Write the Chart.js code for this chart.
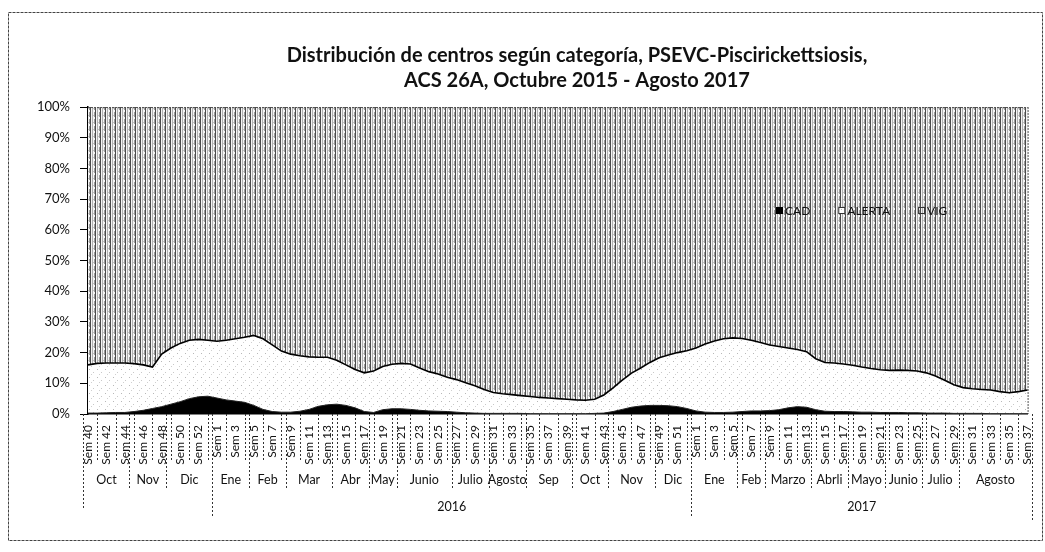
<!DOCTYPE html>
<html>
<head>
<meta charset="utf-8">
<script src="https://cdn.jsdelivr.net/npm/chart.js@4"></script>
<style>
  body { margin: 0; background: #fff; }
  canvas { display: block; }
</style>
</head>
<body>
<canvas id="chart" width="1045" height="552"></canvas>
<script>
// week ranges per year: [year, first week, last week]
const yearWeeks = [[2015, 40, 53], [2016, 1, 52], [2017, 1, 37]];
const yearLabels = ['', '2016', '2017'];

const monthLabels = ['Oct', 'Nov', 'Dic', 'Ene', 'Feb', 'Mar', 'Abr', 'May', 'Junio', 'Julio', 'Agosto', 'Sep', 'Oct', 'Nov', 'Dic',
    'Ene', 'Feb', 'Marzo', 'Abrli', 'Mayo', 'Junio', 'Julio', 'Agosto'];
const monthWeeks = [5, 4, 5, 4, 4, 5, 4, 3, 6, 4, 4, 5, 4, 5, 4,
    5, 3, 5, 4, 4, 4, 4, 8];

const weekLabels = [];
yearWeeks.forEach(([y, a, b]) => { for (let w = a; w <= b; w++) weekLabels.push('Sem ' + w); });

// percentages per week (100% stacked)
const cad = [0.3, 0.3, 0.4, 0.5, 0.5, 0.8, 1.2, 1.8, 2.4, 3.2, 4.0, 5.0, 5.6, 5.8, 5.2, 4.6, 4.2, 3.8, 2.8, 1.5,
    0.8, 0.6, 0.6, 0.9, 1.5, 2.5, 3.0, 3.2, 2.8, 2.0, 0.8, 0.5, 1.4, 1.7, 1.7, 1.5, 1.2, 1.0, 0.9, 0.8,
    0.6, 0.4, 0.3, 0.2, 0.2, 0.2, 0.2, 0.2, 0.1, 0.1, 0.1, 0.1, 0.1, 0.1, 0.1, 0.2, 0.3, 0.8, 1.5, 2.2,
    2.6, 2.8, 2.8, 2.7, 2.4, 1.8, 1.0, 0.6, 0.5, 0.5, 0.6, 0.8, 1.0, 1.0, 1.1, 1.4, 2.0, 2.4, 2.2, 1.4,
    0.9, 0.8, 0.8, 0.7, 0.6, 0.6, 0.5, 0.5, 0.5, 0.4, 0.4, 0.3, 0.3, 0.3, 0.2, 0.2, 0.2, 0.2, 0.1, 0.1,
    0.1, 0.1, 0.1];
const alerta = [15.7, 16.2, 16.2, 16.1, 16.1, 15.6, 14.8, 13.5, 17.1, 18.3, 19.0, 19.0, 18.7, 18.2, 18.5, 19.4, 20.3, 21.2, 22.8, 23.0,
    21.7, 19.9, 18.9, 18.1, 17.1, 16.0, 15.5, 14.3, 13.2, 12.5, 12.6, 13.5, 14.1, 14.5, 14.8, 14.8, 13.8, 12.8, 12.1, 11.2,
    10.6, 9.8, 8.9, 7.8, 6.8, 6.4, 6.1, 5.8, 5.6, 5.3, 5.1, 4.9, 4.7, 4.5, 4.4, 4.6, 5.9, 7.7, 9.5, 11.1,
    12.4, 14.0, 15.5, 16.5, 17.6, 18.8, 20.5, 22.2, 23.3, 24.0, 24.2, 23.8, 23.0, 22.3, 21.4, 20.6, 19.5, 18.6, 18.1, 16.6,
    15.9, 15.8, 15.5, 15.2, 14.7, 14.2, 13.9, 13.7, 13.8, 13.8, 13.6, 13.1, 12.1, 10.7, 9.3, 8.4, 8.0, 7.8, 7.7, 7.2,
    6.8, 7.2, 7.7];
const vig = [84.0, 83.5, 83.4, 83.4, 83.4, 83.6, 84.0, 84.7, 80.5, 78.5, 77.0, 76.0, 75.7, 76.0, 76.3, 76.0, 75.5, 75.0, 74.4, 75.5,
    77.5, 79.5, 80.5, 81.0, 81.4, 81.5, 81.5, 82.5, 84.0, 85.5, 86.6, 86.0, 84.5, 83.8, 83.5, 83.7, 85.0, 86.2, 87.0, 88.0,
    88.8, 89.8, 90.8, 92.0, 93.0, 93.4, 93.7, 94.0, 94.3, 94.6, 94.8, 95.0, 95.2, 95.4, 95.5, 95.2, 93.8, 91.5, 89.0, 86.7,
    85.0, 83.2, 81.7, 80.8, 80.0, 79.4, 78.5, 77.2, 76.2, 75.5, 75.2, 75.4, 76.0, 76.7, 77.5, 78.0, 78.5, 79.0, 79.7, 82.0,
    83.2, 83.4, 83.7, 84.1, 84.7, 85.2, 85.6, 85.8, 85.7, 85.8, 86.0, 86.6, 87.6, 89.0, 90.5, 91.4, 91.8, 92.0, 92.2, 92.7,
    93.1, 92.7, 92.2];

const yTicks = [0, 10, 20, 30, 40, 50, 60, 70, 80, 90, 100];

const titleLines = ['Distribución de centros según categoría, PSEVC-Piscirickettsiosis,',
    'ACS 26A, Octubre 2015 - Agosto 2017'];

// fill patterns like the scanned print
function makePattern(w, h, bg, dots) {
    const c = document.createElement('canvas');
    c.width = w; c.height = h;
    const g = c.getContext('2d');
    g.fillStyle = bg; g.fillRect(0, 0, w, h);
    dots.forEach(([x, y, cw, ch, col]) => { g.fillStyle = col; g.fillRect(x, y, cw, ch); });
    return g.createPattern(c, 'repeat');
}
const ctx0 = document.getElementById('chart').getContext('2d');
const vigFill = makePattern(5, 7, '#f4f4f4', [
    [0, 0, 1, 7, '#4a4a4a'], [2, 0, 1, 7, '#b0b0b0'], [4, 0, 1, 5, '#9a9a9a'], [3, 3, 1, 1, '#c4c4c4']
]);
const alertaFill = makePattern(8, 8, '#ffffff', [
    [1, 1, 1, 1, '#b8b8b8'], [5, 4, 1, 1, '#c8c8c8'], [3, 6, 1, 1, '#d0d0d0']
]);

const FONT = 'Lato, "Open Sans", sans-serif';

const extras = {
    id: 'extras',
    afterDatasetsDraw(chart) {
        const { ctx, chartArea: a } = chart;
        ctx.save();
        // plot frame
        ctx.strokeStyle = '#555';
        ctx.lineWidth = 1;
        ctx.setLineDash([2, 1]);
        ctx.beginPath();
        ctx.moveTo(a.left, a.top + 0.5); ctx.lineTo(a.right, a.top + 0.5);
        ctx.moveTo(a.right + 0.5, a.top); ctx.lineTo(a.right + 0.5, a.bottom);
        ctx.stroke();
        ctx.setLineDash([]);

        // legend inside the plot
        ctx.font = '12px ' + FONT;
        ctx.textBaseline = 'middle';
        let lx = 776;
        const ly = 211;
        chart.data.datasets.forEach(ds => {
            ctx.fillStyle = ds.backgroundColor;
            ctx.fillRect(lx, ly - 4, 7, 7);
            if (ds.label !== 'CAD') { ctx.strokeStyle = '#333'; ctx.strokeRect(lx + 0.5, ly - 3.5, 6, 6); }
            ctx.fillStyle = '#111';
            ctx.fillText(ds.label, lx + 9, ly);
            lx += 9 + ctx.measureText(ds.label).width + 28;
        });
        ctx.restore();
    },
    afterDraw(chart) {
        const { ctx, chartArea: a, scales: { x } } = chart;
        const step = x.getPixelForValue(1) - x.getPixelForValue(0);
        const edge = i => x.getPixelForValue(0) + (i - 0.5) * step;
        const y0 = a.bottom;
        const vline = (px, len) => { ctx.beginPath(); ctx.moveTo(Math.round(px) + 0.5, y0); ctx.lineTo(Math.round(px) + 0.5, y0 + len); ctx.stroke(); };
        ctx.save();
        ctx.strokeStyle = '#333';
        ctx.lineWidth = 1;
        ctx.setLineDash([2, 2]);
        for (let i = 1; i < weekLabels.length; i += 2) vline(x.getPixelForValue(i), 46);

        // months
        ctx.font = '12.5px ' + FONT;
        ctx.fillStyle = '#111';
        ctx.textAlign = 'center';
        ctx.textBaseline = 'middle';
        let c = 0;
        monthLabels.forEach((m, k) => {
            const s = edge(c), e = edge(c + monthWeeks[k]);
            vline(s, 76);
            ctx.fillText(m, (s + e) / 2, y0 + 66);
            c += monthWeeks[k];
        });
        // years
        c = 0;
        yearWeeks.forEach(([yr, a1, b1], k) => {
            const n = b1 - a1 + 1;
            const s = edge(c), e = edge(c + n);
            vline(s, k === 0 ? 96 : 102);
            if (yearLabels[k]) ctx.fillText(yearLabels[k], (s + e) / 2, y0 + 93);
            c += n;
        });
        vline(edge(weekLabels.length), 106);

        // outer frame
        ctx.setLineDash([3, 1]);
        ctx.strokeStyle = '#444';
        ctx.strokeRect(8.5, 12.5, 1034, 528);
        ctx.setLineDash([]);

        // title
        ctx.font = 'bold 20px ' + FONT;
        ctx.fillStyle = '#111';
        ctx.textBaseline = 'alphabetic';
        ctx.fillText(titleLines[0], 577, 62);
        ctx.fillText(titleLines[1], 577, 87);
        ctx.restore();
    }
};

new Chart(ctx0, {
    type: 'line',
    data: {
        labels: weekLabels,
        datasets: [
            { label: 'CAD', data: cad, backgroundColor: '#000', borderColor: '#222', borderWidth: 1, fill: 'origin' },
            { label: 'ALERTA', data: alerta, backgroundColor: alertaFill, borderColor: '#000', borderWidth: 1.6, fill: '-1' },
            { label: 'VIG', data: vig, backgroundColor: vigFill, borderWidth: 0, fill: '-1' }
        ]
    },
    options: {
        responsive: false,
        animation: false,
        devicePixelRatio: 1,
        layout: { padding: { left: 20, right: 15, top: 107, bottom: 0 } },
        elements: { point: { radius: 0 }, line: { tension: 0 } },
        plugins: { legend: { display: false }, title: { display: false }, tooltip: { enabled: false } },
        scales: {
            x: {
                offset: false,
                grid: { display: false },
                border: { display: true, color: '#000', width: 1.5 },
                ticks: {
                    autoSkip: false, minRotation: 90, maxRotation: 90, padding: 3,
                    color: '#111', font: { family: FONT, size: 12 },
                    callback: (v, i) => (i % 2 === 0 ? weekLabels[i] : '')
                },
                afterFit: s => { s.height = 138; }
            },
            y: {
                stacked: true,
                min: 0, max: 100,
                afterBuildTicks: s => { s.ticks = yTicks.map(v => ({ value: v })); },
                grid: { drawOnChartArea: false, tickLength: 8, color: '#000' },
                border: { display: true, color: '#000', width: 1.5 },
                ticks: { padding: 10, color: '#111', font: { family: FONT, size: 13 }, callback: v => v + '%' },
                afterFit: s => { s.width = 68; }
            }
        }
    },
    plugins: [extras]
});
</script>
</body>
</html>
